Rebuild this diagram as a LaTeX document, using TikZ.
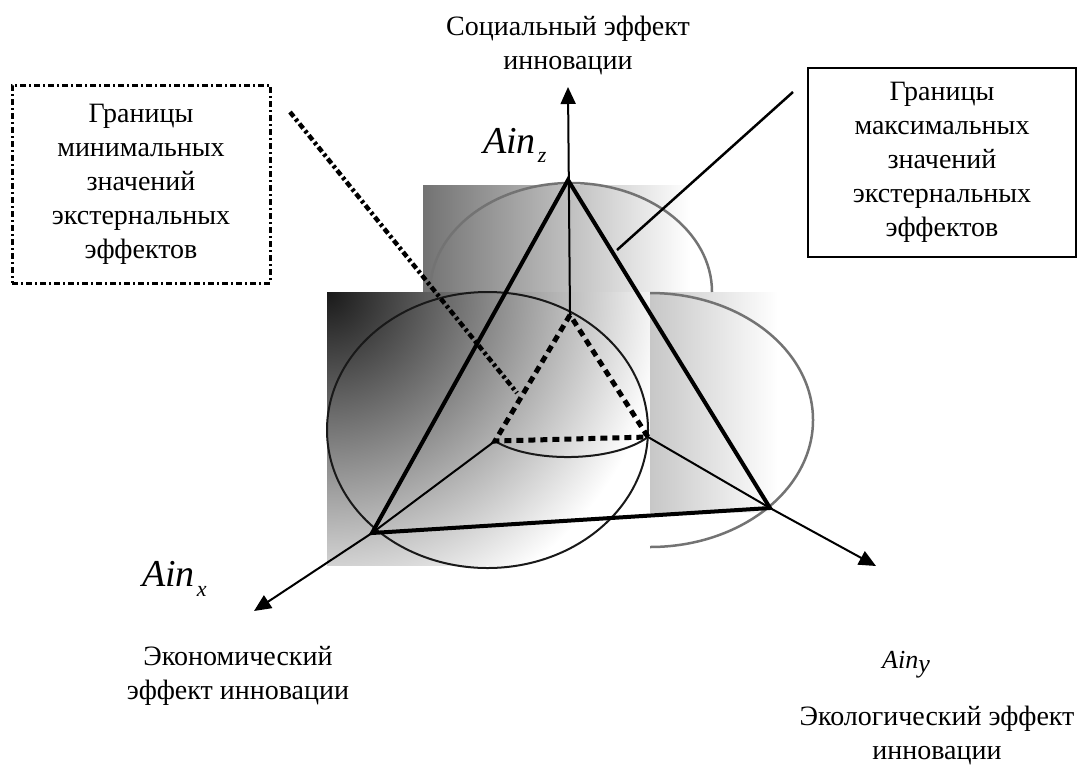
\documentclass[tikz,border=0pt]{standalone}
\usepackage{fontspec}
\setmainfont{Liberation Serif}
\usetikzlibrary{arrows.meta}
\begin{document}
\begin{tikzpicture}[x=1pt,y=-1pt,
  thickline/.style={line width=4pt, line join=miter},
  axisline/.style={line width=2pt},
  circline/.style={line width=2pt, draw=black!90},
  grayarc/.style={line width=2.5pt, draw=black!55},
  dotline/.style={line width=4.5pt, dash pattern=on 6pt off 3pt on 3pt off 3pt},
  innerdash/.style={line width=5pt, dash pattern=on 7pt off 5pt},
  lbl/.style={font=\fontsize{28}{34}\selectfont, align=center, inner sep=0pt},
  axlbl/.style={font=\fontsize{38}{40}\selectfont\itshape, inner sep=0pt, anchor=base west},
  ar/.style={-{Triangle[length=17pt,width=15pt]}}
]
\useasboundingbox (0,0) rectangle (1086,769);
\fill[white] (0,0) rectangle (1086,769);

% gradient squares
\shade[left color=black!55, right color=white] (423,185) rectangle (690,292);
\begin{scope}
  \clip (327,292) rectangle (650,565);
  \fill[white] (327,292) rectangle (650,565);
  \shade[inner color=black!90, outer color=white] (327,292) circle[radius=340];
\end{scope}
\shade[left color=black!22, right color=white] (650,292) rectangle (778,512);

% circles
\draw[grayarc] (430,292) arc[start angle=180, end angle=360, x radius=141, y radius=109];
\draw[grayarc] (650,293) arc[start angle=-90, end angle=90, x radius=163, y radius=127];
\draw[circline] (487.5,430) ellipse[x radius=160.5, y radius=138];

% points
\coordinate (Z) at (568,180);
\coordinate (X) at (372,533);
\coordinate (Y) at (770,508);
\coordinate (I) at (570,315);
\coordinate (B1) at (495,441);
\coordinate (B2) at (648,437);
\coordinate (zt) at (568,87);
\coordinate (xt) at (254,611);
\coordinate (yt) at (876,566);

% inner cap arc
\draw[circline] (B1) .. controls (530,463) and (612,463) .. (B2);

% axes
\draw[axisline, ar] (I) -- (zt);
\draw[axisline] (B1) -- (X);
\draw[axisline, ar] (X) -- (xt);
\draw[axisline] (B2) -- (Y);
\draw[axisline, ar] (Y) -- (yt);

% inner triangle
\draw[innerdash] (I) -- (B1) -- (B2) -- cycle;

% big triangle
\draw[thickline] (Z) -- (X) -- (Y) -- cycle;

% leader lines
\coordinate (d1) at (290,112);
\coordinate (d2) at (517,393);
\draw[dotline] (d1) -- (d2);
\coordinate (s1) at (793,92);
\coordinate (s2) at (617,250);
\draw[line width=2.5pt] (s1) -- (s2);

% boxes
\node[lbl, draw, line width=3pt, dash pattern=on 6pt off 3pt on 2pt off 3pt,
      minimum width=258pt, minimum height=198pt] (minbox) at (141,184)
  {Границы\\минимальных\\значений\\экстернальных\\эффектов};
\node[lbl, draw, line width=2.5pt, minimum width=268pt, minimum height=189pt] (maxbox) at (942,162.5)
  {Границы\\максимальных\\значений\\экстернальных\\эффектов};

% axis titles
\node[lbl] (soc) at (568,45) {Социальный эффект\\инновации};
\node[lbl] (econ) at (238,676) {Экономический\\эффект инновации};
\node[lbl] (ecol) at (937,735) {Экологический эффект\\инновации};

% axis labels
\node[axlbl] (ainz) at (483,153) {Ain\kern2pt\raisebox{-9pt}{\fontsize{22}{22}\selectfont z}};
\node[axlbl] (ainx) at (142,586) {Ain\kern2pt\raisebox{-10pt}{\fontsize{22}{22}\selectfont x}};
\node[font=\fontsize{26}{26}\selectfont\itshape, anchor=base west, inner sep=0pt] (ainy) at (882,668) {Ain\raisebox{-4pt}{y}};
\end{tikzpicture}
\end{document}
